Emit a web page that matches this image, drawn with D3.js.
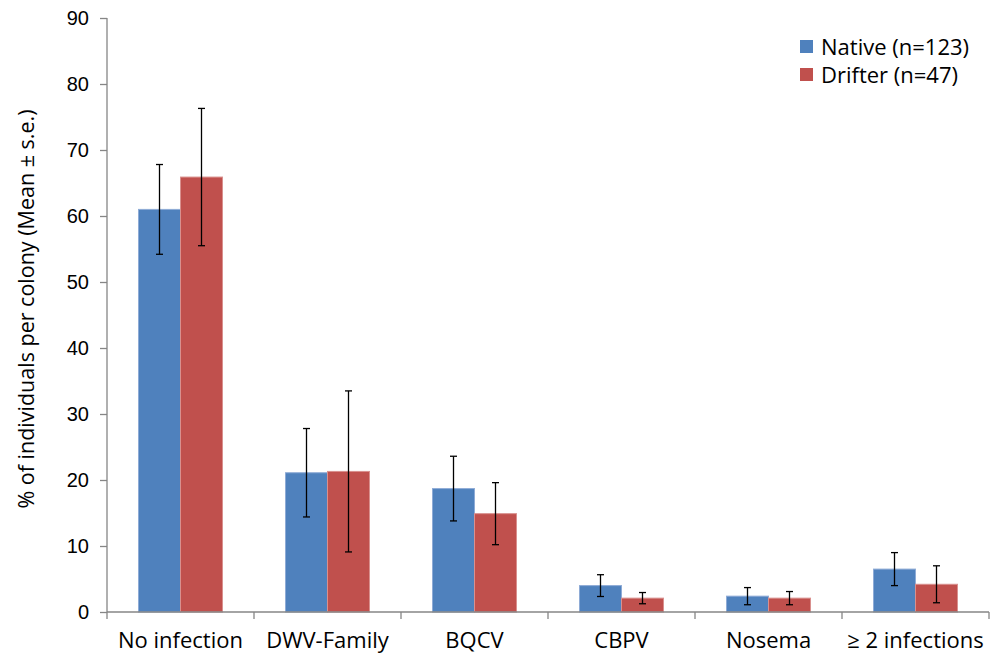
<!DOCTYPE html>
<html>
<head>
<meta charset="utf-8">
<script src="https://cdn.jsdelivr.net/npm/d3@7"></script>
<style>
  body { margin: 0; background: #fff; }
  svg { display: block; font-family: "Open Sans", Lato, sans-serif; }
</style>
</head>
<body>
<svg width="996" height="655"></svg>
<script>
var categories = ["No infection", "DWV-Family", "BQCV", "CBPV", "Nosema", "\u2265 2 infections"];
var seriesNames = ["Native (n=123)", "Drifter (n=47)"];
var nativeMean = [61.0, 21.1, 18.7, 4.0, 2.4, 6.5];
var nativeSE   = [6.8, 6.7, 4.9, 1.65, 1.3, 2.5];
var drifterMean = [65.9, 21.3, 14.9, 2.1, 2.1, 4.2];
var drifterSE   = [10.4, 12.2, 4.7, 0.85, 1.0, 2.8];
var yTicks = [0, 10, 20, 30, 40, 50, 60, 70, 80, 90];
var colors = ["#4F81BD", "#C0504D"];
var strokes = ["#8EABD6", "#D9908E"];

var svg = d3.select("svg"),
    margin = {top: 18, right: 7, bottom: 43, left: 107},
    width = +svg.attr("width") - margin.left - margin.right,
    height = +svg.attr("height") - margin.top - margin.bottom;

var g = svg.append("g").attr("transform", "translate(" + margin.left + "," + margin.top + ")");

var x0 = d3.scaleBand().domain(categories).range([0, width]).padding(0);
var bw = x0.bandwidth();
var x1 = d3.scaleBand().domain([0, 1]).range([bw * 1.5 / 7, bw * 5.5 / 7]).padding(0);
var y = d3.scaleLinear().domain([0, 90]).range([height, 0]);

var rows = categories.map(function(c, i) {
  return {cat: c, vals: [
    {s: 0, m: nativeMean[i], e: nativeSE[i]},
    {s: 1, m: drifterMean[i], e: drifterSE[i]}
  ]};
});

var groups = g.selectAll("g.grp")
  .data(rows)
  .enter().append("g")
    .attr("class", "grp")
    .attr("transform", function(d) { return "translate(" + x0(d.cat) + ",0)"; });

groups.selectAll("rect")
  .data(function(d) { return d.vals; })
  .enter().append("rect")
    .attr("x", function(d) { return x1(d.s); })
    .attr("y", function(d) { return y(d.m); })
    .attr("width", x1.bandwidth())
    .attr("height", function(d) { return y(0) - y(d.m); })
    .attr("fill", function(d) { return colors[d.s]; })
    .attr("stroke", function(d) { return strokes[d.s]; })
    .attr("stroke-width", 1);

var err = groups.selectAll("g.err")
  .data(function(d) { return d.vals; })
  .enter().append("g")
    .attr("class", "err")
    .attr("stroke", "#000")
    .attr("stroke-width", 1.3);

err.append("line")
  .attr("x1", function(d) { return x1(d.s) + x1.bandwidth() / 2; })
  .attr("x2", function(d) { return x1(d.s) + x1.bandwidth() / 2; })
  .attr("y1", function(d) { return y(d.m + d.e); })
  .attr("y2", function(d) { return y(d.m - d.e); });

[1, -1].forEach(function(sign) {
  err.append("line")
    .attr("x1", function(d) { return x1(d.s) + x1.bandwidth() / 2 - 3.5; })
    .attr("x2", function(d) { return x1(d.s) + x1.bandwidth() / 2 + 3.5; })
    .attr("y1", function(d) { return y(d.m + sign * d.e); })
    .attr("y2", function(d) { return y(d.m + sign * d.e); });
});

// y axis
var yAxis = g.append("g")
  .call(d3.axisLeft(y).tickValues(yTicks).tickSize(7).tickPadding(11));
yAxis.selectAll("path, line").attr("stroke", "#868686").attr("stroke-width", 1.3);
yAxis.selectAll("text").attr("font-size", 20).attr("fill", "#000").attr("font-family", null);
yAxis.select(".domain").attr("d", "M0," + y(90) + "V" + y(0));

// x axis: ticks on category boundaries
var xAxisG = g.append("g").attr("transform", "translate(0," + height + ")");
xAxisG.append("line")
  .attr("x1", 0).attr("x2", width)
  .attr("stroke", "#868686").attr("stroke-width", 1.3);
xAxisG.selectAll("line.tk")
  .data(d3.range(categories.length + 1))
  .enter().append("line")
    .attr("class", "tk")
    .attr("x1", function(i) { return i * bw; })
    .attr("x2", function(i) { return i * bw; })
    .attr("y1", 0).attr("y2", 7)
    .attr("stroke", "#868686").attr("stroke-width", 1.3);
xAxisG.selectAll("text")
  .data(categories)
  .enter().append("text")
    .attr("x", function(d) { return x0(d) + bw / 2; })
    .attr("y", 36)
    .attr("text-anchor", "middle")
    .attr("font-size", 22)
    .text(function(d) { return d; });

// y title
svg.append("text")
  .attr("transform", "translate(34," + 309 + ") rotate(-90)")
  .attr("text-anchor", "middle")
  .attr("font-size", 21.5)
  .text("% of individuals per colony (Mean \u00b1 s.e.)");

// legend
var legend = svg.selectAll("g.leg")
  .data(seriesNames)
  .enter().append("g")
    .attr("class", "leg")
    .attr("transform", function(d, i) { return "translate(800," + (40 + i * 28) + ")"; });
legend.append("rect")
  .attr("width", 13).attr("height", 13)
  .attr("fill", function(d, i) { return colors[i]; });
legend.append("text")
  .attr("x", 21).attr("y", 15)
  .attr("font-size", 22)
  .text(function(d) { return d; });
</script>
</body>
</html>
